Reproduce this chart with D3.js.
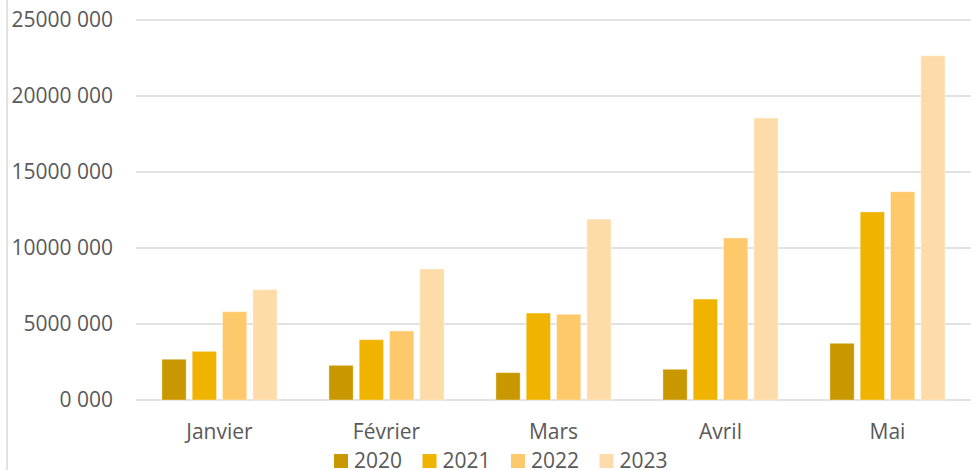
<!DOCTYPE html>
<html lang="fr">
<head>
	<meta charset="UTF-8">
	<script src="https://d3js.org/d3.v7.min.js"></script>
	<style>
		body{ margin:0; background:#fff; }
		.lbl{ fill:#595959; font-family:"Open Sans", sans-serif; font-size:21px; }
		.grid line{ stroke:#d9d9d9; stroke-width:1.5px; }
	</style>
</head>
<body>
<script>
	// donnees
	const months = ["Janvier", "Février", "Mars", "Avril", "Mai"];
	const years = ["2020", "2021", "2022", "2023"];
	const v2020 = [2680000, 2280000, 1800000, 2020000, 3730000];
	const v2021 = [3200000, 3970000, 5720000, 6640000, 12370000];
	const v2022 = [5810000, 4540000, 5640000, 10660000, 13700000];
	const v2023 = [7260000, 8620000, 11900000, 18550000, 22650000];
	const yTicks = [0, 5000000, 10000000, 15000000, 20000000, 25000000];
	const colors = ["#c99800", "#efb300", "#fec96b", "#fedca9"];

	const width = 971, height = 470;
	const series = [v2020, v2021, v2022, v2023];

	const svg = d3.select("body").append("svg")
		.attr("width", width)
		.attr("height", height);

	// cadre gauche du graphique
	svg.append("line")
		.attr("x1", 7).attr("x2", 7)
		.attr("y1", 0).attr("y2", height)
		.attr("stroke", "#d9d9d9").attr("stroke-width", 1.5);

	// titre (coupe en haut de l'image, seul le bas du "g" est visible)
	svg.append("text")
		.attr("class", "lbl")
		.attr("x", 505).attr("y", -7)
		.attr("text-anchor", "middle")
		.style("font-size", "26px")
		.style("fill", "#404040")
		.text("g");

	let x0 = d3.scaleBand().domain(months).range([136, 971]);
	let x1 = d3.scaleBand().domain(years).range([0, x0.bandwidth()])
		.paddingInner(0.2).paddingOuter(0.855);
	let y = d3.scaleLinear().domain([0, 25000000]).range([400, 20]);

	// lignes de quadrillage
	svg.append("g")
		.attr("class", "grid")
		.selectAll("line")
		.data(yTicks)
		.enter()
		.append("line")
		.attr("x1", 136).attr("x2", 971)
		.attr("y1", d => y(d)).attr("y2", d => y(d));

	// etiquettes de l'axe vertical
	svg.selectAll(".ytick")
		.data(yTicks)
		.enter()
		.append("text")
		.attr("class", "lbl ytick")
		.attr("x", 113)
		.attr("y", d => y(d))
		.attr("dy", "0.35em")
		.attr("text-anchor", "end")
		.text(d => (d / 1000) + " 000");

	// barres
	const rows = [];
	months.forEach((m, i) => {
		years.forEach((yr, j) => {
			rows.push({month: m, year: yr, idx: j, value: series[j][i]});
		});
	});

	svg.selectAll(".bar")
		.data(rows)
		.enter()
		.append("rect")
		.attr("class", "bar")
		.attr("x", d => x0(d.month) + x1(d.year))
		.attr("y", d => y(d.value))
		.attr("width", x1.bandwidth())
		.attr("height", d => y(0) - y(d.value))
		.attr("fill", d => colors[d.idx])
		.attr("stroke", "#ffffff")
		.attr("stroke-opacity", 0.35)
		.attr("stroke-width", 1);

	// etiquettes de l'axe horizontal
	svg.selectAll(".xtick")
		.data(months)
		.enter()
		.append("text")
		.attr("class", "lbl xtick")
		.attr("x", d => x0(d) + x0.bandwidth() / 2)
		.attr("y", 432)
		.attr("dy", "0.35em")
		.attr("text-anchor", "middle")
		.text(d => d);

	// legende
	const legend = svg.selectAll(".leg")
		.data(years)
		.enter()
		.append("g")
		.attr("class", "leg")
		.attr("transform", (d, i) => "translate(" + (334 + i * 88.5) + ",454)");
	legend.append("rect")
		.attr("width", 14).attr("height", 14)
		.attr("fill", (d, i) => colors[i]);
	legend.append("text")
		.attr("class", "lbl")
		.attr("x", 20).attr("y", 7)
		.attr("dy", "0.35em")
		.text(d => d);
</script>
</body>
</html>
